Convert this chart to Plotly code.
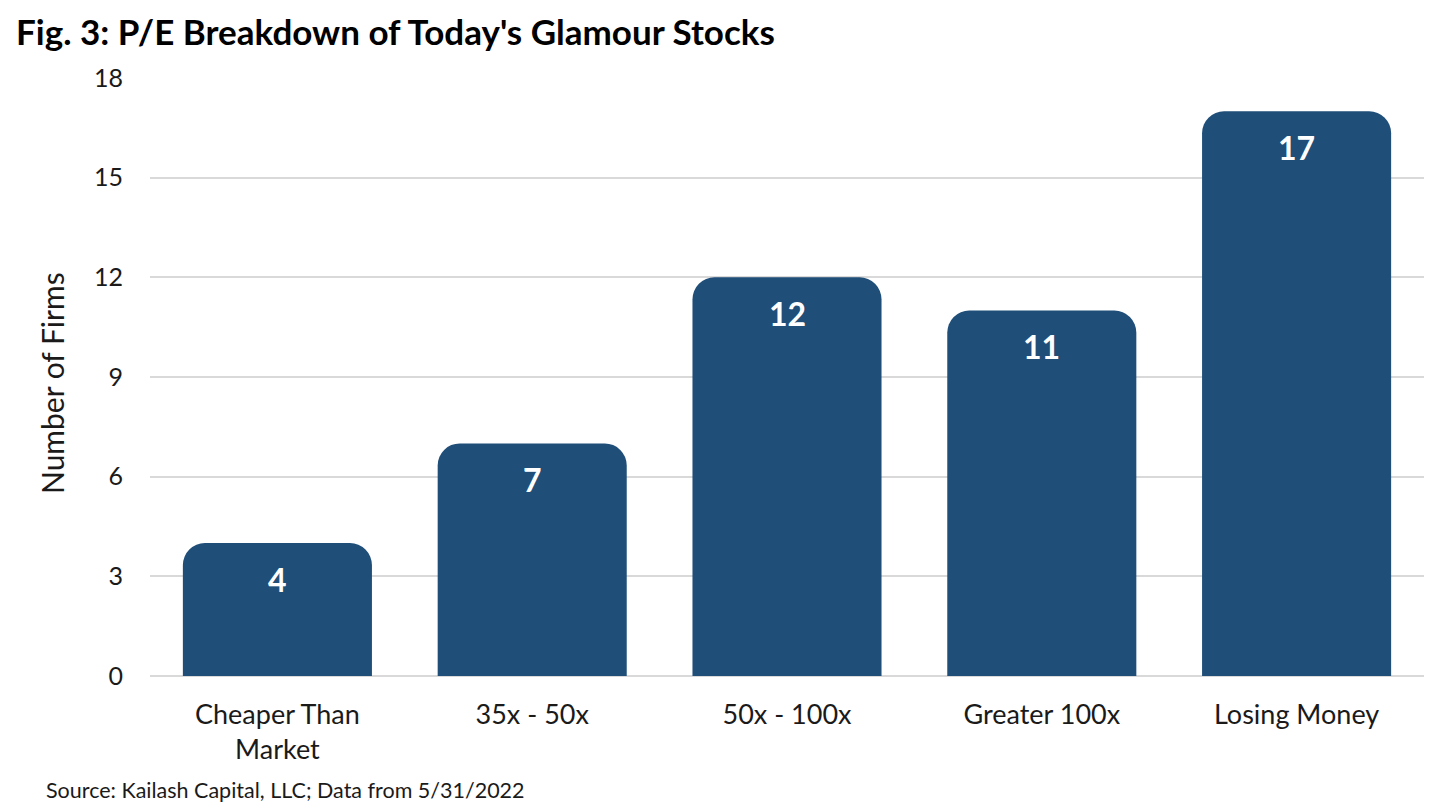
import plotly.graph_objects as go

# data
categories = ["Cheaper Than<br>Market", "35x - 50x", "50x - 100x", "Greater 100x", "Losing Money"]
firms = [4, 7, 12, 11, 17]
y_ticks = [0, 3, 6, 9, 12, 15, 18]

bar_color = "#1F4E79"
font_family = "Lato"
text_color = "#1a1a1a"

# page body adds 8px offset, so the figure is 8px smaller than the window
W, H = 1440, 799
L, R, T, B = 142, 24, 70, 131
plot_w = W - L - R
plot_h = H - T - B

fig = go.Figure()
fig.add_trace(go.Bar(
    x=categories, y=firms,
    marker=dict(color=bar_color, line=dict(width=0)),
    hoverinfo="x+y", showlegend=False,
))

# value labels sit a bit below the top of each bar
for cat, val in zip(categories, firms):
    fig.add_annotation(
        x=cat, y=val, text="<b>%d</b>" % val, showarrow=False,
        yanchor="middle", yshift=-36,
        font=dict(family=font_family, size=32, color="white"),
    )

# y axis title as rotated annotation
fig.add_annotation(
    text="Number of Firms", textangle=-90,
    xref="paper", yref="paper", x=(44 - L) / plot_w, y=0.5, yshift=-6,
    xanchor="center", yanchor="middle", showarrow=False,
    font=dict(family=font_family, size=30, color=text_color),
)

fig.add_annotation(
    text="Source: Kailash Capital, LLC; Data from 5/31/2022",
    xref="paper", yref="paper", x=(36 - L) / plot_w, y=-(782 - (T + plot_h)) / plot_h,
    xanchor="left", yanchor="middle", showarrow=False,
    font=dict(family=font_family, size=21.5, color=text_color),
)

fig.update_layout(
    width=W, height=H,
    margin=dict(l=L, r=R, t=T, b=B),
    paper_bgcolor="white", plot_bgcolor="white",
    bargap=0.258, barcornerradius=22,
    title=dict(
        text="<b>Fig. 3: P/E Breakdown of Today's Glamour Stocks</b>",
        x=8 / W, xanchor="left", y=1 - 25 / H, yanchor="middle",
        font=dict(family=font_family, size=35, color="black"),
    ),
    font=dict(family=font_family, color=text_color),
)
fig.update_xaxes(
    showgrid=False, showline=False, ticks="",
    ticklabelstandoff=20,
    tickfont=dict(size=27, color=text_color),
)
fig.update_yaxes(
    range=[0, 18], tickvals=y_ticks,
    showgrid=True, gridcolor="#d9d9d9", gridwidth=1.5,
    zeroline=True, zerolinecolor="#d9d9d9", zerolinewidth=1.5,
    ticks="", ticklabelstandoff=26,
    tickfont=dict(size=25, color=text_color),
)

fig.write_html("out.html")
